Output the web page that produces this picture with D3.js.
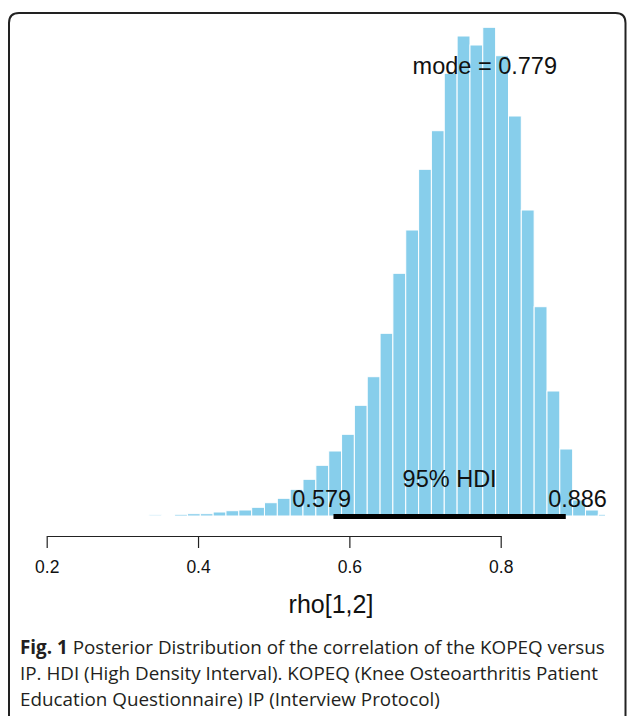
<!DOCTYPE html>
<html><head><meta charset="utf-8">
<script src="https://cdn.jsdelivr.net/npm/d3@7"></script>
<style>body{margin:0;background:#fff}svg{display:block}</style>
</head><body>
<svg id="c" width="627" height="716"></svg>
<script>
// ---- data ----
const binEdges = [0.3351,0.3521,0.3690,0.3860,0.4030,0.4200,0.4369,0.4539,0.4709,0.4878,
  0.5048,0.5218,0.5387,0.5557,0.5727,0.5897,0.6066,0.6236,0.6406,0.6575,
  0.6745,0.6915,0.7084,0.7254,0.7424,0.7594,0.7763,0.7933,0.8103,0.8272,
  0.8442,0.8612,0.8781,0.8951,0.9121,0.9290,0.9385];
const counts = [12,0,17,23,23,40,53,60,87,133,
  177,267,367,507,650,817,1107,1393,1827,2427,
  2860,3467,3853,4427,4800,4710,4887,4603,4000,3060,
  2093,1250,670,160,60,17];
const tickValues = [0.2,0.4,0.6,0.8];
const tickLabels = ["0.2","0.4","0.6","0.8"];
const hdi = [0.579,0.886];
const hdiLabels = ["0.579","0.886"];
const modeValue = 0.779;
const modeLabel = "mode = 0.779";
const hdiText = "95% HDI";
const xLabel = "rho[1,2]";
const captionBold = "Fig. 1";
const captionLines = [
  " Posterior Distribution of the correlation of the KOPEQ versus",
  "IP. HDI (High Density Interval). KOPEQ (Knee Osteoarthritis Patient",
  "Education Questionnaire) IP (Interview Protocol)"
];

// ---- drawing ----
const svg = d3.select("#c");
const W = 627, H = 716;

// frame with rounded top corners
const fx0 = 9, fx1 = 625.5, fy0 = 13, r = 10;
svg.append("path")
  .attr("d", `M${fx0},${H+5} L${fx0},${fy0+r} Q${fx0},${fy0} ${fx0+r},${fy0} L${fx1-r},${fy0} Q${fx1},${fy0} ${fx1},${fy0+r} L${fx1},${H+5}`)
  .attr("fill","none").attr("stroke","#222").attr("stroke-width",2);

const x = d3.scaleLinear().domain([0.2,0.8]).range([46.7,500.7]);
const baseline = 516;
const y = d3.scaleLinear().domain([0, d3.max(counts)]).range([baseline, 27.3]);

const bins = counts.map((c,i)=>({x0:binEdges[i], x1:binEdges[i+1], c}));
svg.append("g").selectAll("rect").data(bins.filter(d=>d.c>0)).join("rect")
  .attr("x", d=>x(d.x0))
  .attr("width", d=>x(d.x1)-x(d.x0))
  .attr("y", d=>y(d.c))
  .attr("height", d=>baseline-y(d.c))
  .attr("fill","#87CEEB")
  .attr("stroke","#ffffff").attr("stroke-width",1);

// HDI bar
svg.append("line")
  .attr("x1", x(hdi[0])).attr("x2", x(hdi[1]))
  .attr("y1", baseline+0.5).attr("y2", baseline+0.5)
  .attr("stroke","#000").attr("stroke-width",5);

const font = "'Liberation Sans', Arial, sans-serif";

// mode text
svg.append("text").attr("x", x(modeValue)).attr("y", 74)
  .attr("text-anchor","middle").attr("font-family",font).attr("font-size",23.5)
  .attr("fill","#111").text(modeLabel);

// 95% HDI
svg.append("text").attr("x", x((hdi[0]+hdi[1])/2)).attr("y", 486.5)
  .attr("text-anchor","middle").attr("font-family",font).attr("font-size",23.5)
  .attr("fill","#111").text(hdiText);

// HDI limits
const adj = [0.7, 0.3];
hdi.forEach((v,i)=>{
  const t = svg.append("text").attr("y", 506.5)
    .attr("font-family",font).attr("font-size",23.5).attr("fill","#111")
    .text(hdiLabels[i]);
  const w = t.node().getComputedTextLength();
  t.attr("x", x(v) - adj[i]*w);
});

// axis
const axis = d3.axisBottom(x).tickValues(tickValues)
  .tickFormat((d,i)=>tickLabels[i]).tickSize(12).tickSizeOuter(0).tickPadding(13);
const ag = svg.append("g").attr("transform",`translate(0,536)`).call(axis);
ag.select(".domain").attr("stroke","#222").attr("stroke-width",1.2);
ag.selectAll(".tick line").attr("stroke","#222").attr("stroke-width",1.2);
ag.selectAll(".tick text").attr("font-family",font).attr("font-size",17.5).attr("fill","#111");

// x label
svg.append("text").attr("x", 331).attr("y", 613)
  .attr("text-anchor","middle").attr("font-family",font).attr("font-size",25)
  .attr("fill","#111").text(xLabel);

// caption
const capFont = "'Open Sans', 'Noto Sans', sans-serif";
let fs = 19;
const capG = svg.append("g");
const l1 = capG.append("text").attr("x",20).attr("y",654)
  .attr("font-family",capFont).attr("font-size",fs).attr("fill","#231f20");
l1.append("tspan").attr("font-weight","bold").text(captionBold);
l1.append("tspan").text(captionLines[0]);
const w1 = l1.node().getComputedTextLength();
fs = fs * 585 / w1;
l1.attr("font-size", fs);
[captionLines[1], captionLines[2]].forEach((s,i)=>{
  capG.append("text").attr("x",20).attr("y",680+26*i)
    .attr("font-family",capFont).attr("font-size",fs).attr("fill","#231f20").text(s);
});
</script>
</body></html>
